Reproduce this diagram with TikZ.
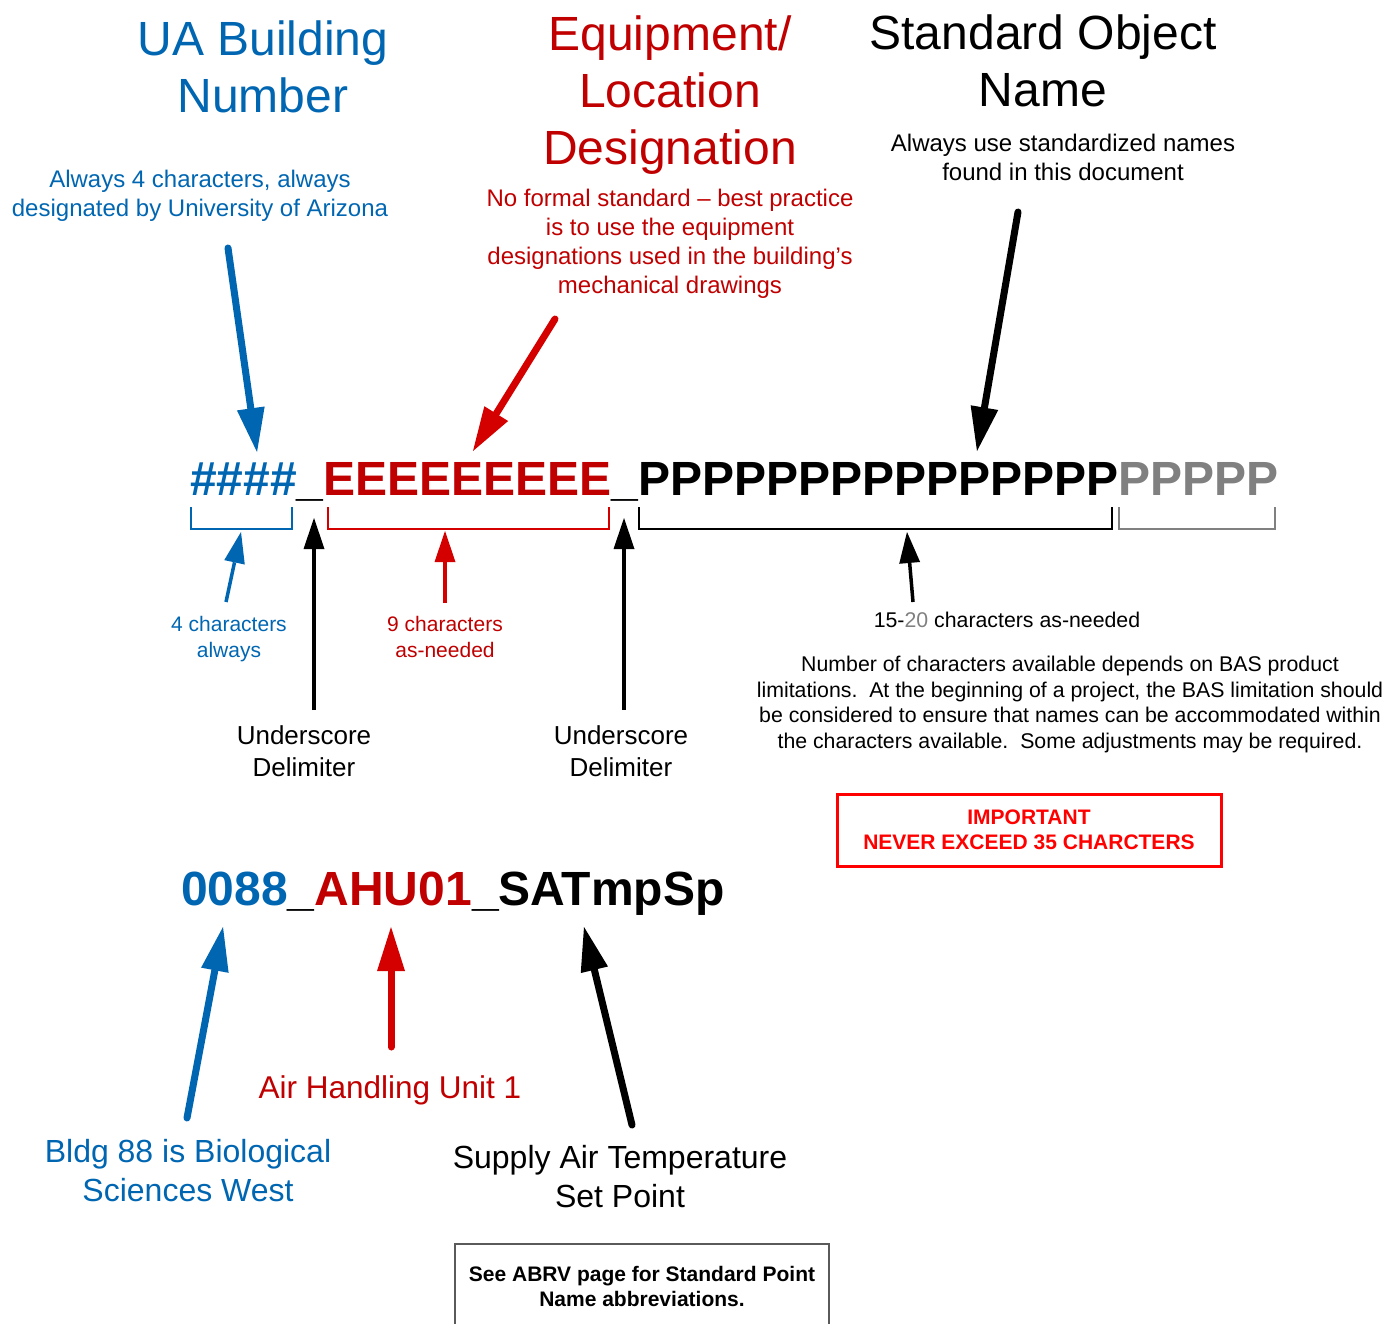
\documentclass[tikz,border=0pt]{standalone}
\usepackage{fontspec}
\setmainfont{Liberation Sans}
\usepackage{tikz}
\usetikzlibrary{arrows.meta,positioning}
\definecolor{uablue}{RGB}{0,102,178}
\definecolor{uared}{RGB}{192,0,0}
\definecolor{arrowred}{RGB}{212,0,0}
\definecolor{alertred}{RGB}{255,0,0}
\definecolor{pgray}{RGB}{128,128,128}
\definecolor{boxgray}{RGB}{90,90,90}
\tikzset{
  headline/.style={font=\fontsize{48}{57}\selectfont, align=center, inner sep=0pt},
  subnote/.style={font=\fontsize{24}{29}\selectfont, align=center, inner sep=0pt},
  countnote/.style={font=\fontsize{21}{26}\selectfont, align=center, inner sep=0pt},
  delimnote/.style={font=\fontsize{26}{32}\selectfont, align=center, inner sep=0pt},
  examplenote/.style={font=\fontsize{32}{39}\selectfont, align=center, inner sep=0pt},
  smallnote/.style={font=\fontsize{21.3}{25.7}\selectfont, align=center, inner sep=0pt},
  codeline/.style={font=\fontsize{48}{57}\selectfont\bfseries, anchor=base west, inner sep=0pt},
  bigarrow/.style={line width=7pt, line cap=round, -{Triangle[width=28pt,length=44pt,line width=0pt]}},
  thinarrow/.style={line width=3.5pt, -{Triangle[width=21pt,length=31pt,line width=0pt]}},
  bracket/.style={line width=2pt},
}
\begin{document}
\begin{tikzpicture}[x=1pt,y=-1pt]
\useasboundingbox (0,0) rectangle (1388,1323);

\node[headline, text=uablue] (bldgtitle) at (263,66.5) {UA Building\\Number};
\node[headline, text=uared] (equiptitle) at (670,95) {Equipment/\\Location\\Designation};
\node[headline] (objtitle) at (1043,61) {Standard Object\\Name};

\node[subnote, text=uablue] (bldgnote) at (200,196) {Always 4 characters, always\\designated by University of Arizona};
\node[subnote, text=uared] (equipnote) at (670,244) {No formal standard -- best practice\\is to use the equipment\\designations used in the building’s\\mechanical drawings};
\node[subnote] (objnote) at (1063,157.5) {Always use standardized names\\found in this document};

\node[codeline] (pattern) at (190,495)
  {\textcolor{uablue}{\#\#\#\#}\_\textcolor{uared}{EEEEEEEEE}\_PPPPPPPPPPPPPPP\textcolor{pgray}{PPPPP}};

\draw[bracket, uablue] (191,507) |- (292,529) -- (292,507);
\draw[bracket, arrowred] (328,507) |- (609,529) -- (609,507);
\draw[bracket, black, line width=2.5pt] (639,507) |- (1112,529) -- (1112,507);
\draw[bracket, pgray] (1119,507) |- (1275,529) -- (1275,507);

\coordinate (bldgtail) at (228,248);
\coordinate (bldgtip) at (257,452);
\coordinate (equiptail) at (555,319);
\coordinate (equiptip) at (473,451);
\coordinate (objtail) at (1018,212);
\coordinate (objtip) at (977,451);
\draw[bigarrow, uablue] (bldgtail) -- (bldgtip);
\draw[bigarrow, arrowred] (equiptail) -- (equiptip);
\draw[bigarrow, black] (objtail) -- (objtip);

\node[countnote, text=uablue] (fourchars) at (229,639) {4 characters\\always};
\node[countnote, text=uared] (ninechars) at (445,637) {9 characters\\as-needed};
\node[delimnote] (delimone) at (304,751) {Underscore\\Delimiter};
\node[delimnote] (delimtwo) at (621,751) {Underscore\\Delimiter};
\node[smallnote] (pchars) at (1007,620) {15-\textcolor{pgray}{20} characters as-needed};
\node[smallnote] (baslimit) at (1070,704.5) {Number of characters available depends on BAS product\\limitations.\ \ At the beginning of a project, the BAS limitation should\\be considered to ensure that names can be accommodated within\\the characters available.\ \ Some adjustments may be required.};
\node[draw=alertred, line width=3pt, minimum width=384pt, minimum height=72pt, inner sep=0pt,
      font=\fontsize{21}{25}\selectfont\bfseries, text=alertred, align=center] (important) at (1029,830)
  {IMPORTANT\\NEVER EXCEED 35 CHARCTERS};

\draw[thinarrow, uablue] (226,602) -- (241,532);
\draw[thinarrow, arrowred] (445,603) -- (445,531);
\draw[thinarrow, black] (314,710) -- (314,518);
\draw[thinarrow, black] (624,710) -- (624,518);
\draw[thinarrow, black] (913,602) -- (907,532);

\node[codeline] (example) at (181,905)
  {\textcolor{uablue}{0088}\_\textcolor{uared}{AHU01}\_SATmpSp};

\node[examplenote, text=uared, font=\fontsize{31.5}{39}\selectfont] (ahunote) at (390,1090) {Air Handling Unit 1};
\node[examplenote, text=uablue] (bldgex) at (188,1170.5) {Bldg 88 is Biological\\Sciences West};
\node[examplenote] (pointex) at (620,1176.5) {Supply Air Temperature\\Set Point};

\coordinate (bldgextail) at (187,1118);
\coordinate (bldgextip) at (223,927);
\coordinate (ahutail) at (391,1047);
\coordinate (ahutip) at (391,927);
\coordinate (pointtail) at (632,1125);
\coordinate (pointtip) at (584,927);
\draw[bigarrow, uablue] (bldgextail) -- (bldgextip);
\draw[bigarrow, arrowred] (ahutail) -- (ahutip);
\draw[bigarrow, black] (pointtail) -- (pointtip);

\node[draw=boxgray, line width=1.5pt, minimum width=374pt, minimum height=84pt, inner sep=0pt,
      font=\fontsize{21}{25}\selectfont\bfseries, align=center] (abrv) at (642,1286)
  {See ABRV page for Standard Point\\Name abbreviations.};
\end{tikzpicture}
\end{document}
